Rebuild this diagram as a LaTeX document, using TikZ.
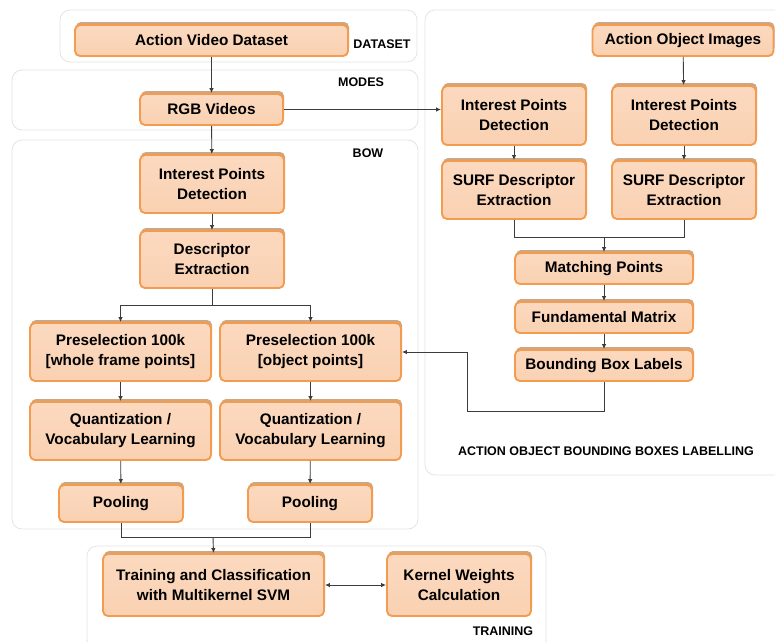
\documentclass[tikz,border=0pt]{standalone}
\usepackage{fontspec}
\setmainfont{Liberation Sans}
\usetikzlibrary{arrows.meta,shadows,calc}
\definecolor{boxborder}{HTML}{F39B4E}
\definecolor{filltop}{HTML}{FBD9BF}
\definecolor{fillmid}{HTML}{FEEEE3}
\definecolor{fillbot}{HTML}{FAD1B2}
\definecolor{shadowc}{HTML}{CDA784}
\definecolor{contc}{HTML}{E4E4E4}
\definecolor{linec}{HTML}{3C3C3C}
\begin{document}
\begin{tikzpicture}[x=1pt,y=-1pt,
 box/.style={draw=boxborder, line width=1.9pt, rounded corners=5pt,
   top color=filltop, middle color=fillmid, bottom color=fillbot,
   general shadow={fill=shadowc, shadow yshift=3pt, shadow xshift=1pt},
   font=\bfseries\fontsize{15.3}{20}\selectfont, align=center, inner sep=0pt},
 cont/.style={draw=contc, line width=0.8pt, rounded corners=10pt, fill=white},
 lab/.style={font=\bfseries\fontsize{12.5}{15}\selectfont, inner sep=0pt},
 conn/.style={draw=linec, line width=0.9pt},
 arr/.style={conn, -{Latex[length=5pt,width=4.5pt]}},
 darr/.style={conn, {Latex[length=5pt,width=4.5pt]}-{Latex[length=5pt,width=4.5pt]}}]
\useasboundingbox[fill=white] (0,0) rectangle (775,641);
% containers
\draw[cont] (60,10) rectangle (417,62);
\draw[cont] (12,70) rectangle (418,130);
\draw[cont] (12,140) rectangle (418,529);
\draw[cont] (425,10) rectangle (790,475);
\draw[cont] (87,546) rectangle (546,650);
% container labels
\node[lab] (ldataset) at (382,44) {DATASET};
\node[lab] (lmodes) at (361,82) {MODES};
\node[lab] (lbow) at (368,153) {BOW};
\node[lab] (laobb) at (606,451) {ACTION OBJECT BOUNDING BOXES LABELLING};
\node[lab] (ltrain) at (503,631) {TRAINING};
% boxes
\node[box, minimum width=273pt, minimum height=31pt] (avd) at (211.5,40.5) {Action Video Dataset};
\node[box, minimum width=143pt, minimum height=31pt] (rgb) at (211.5,109.5) {RGB Videos};
\node[box, minimum width=144pt, minimum height=58pt] (ipdb) at (212,184) {Interest Points\\Detection};
\node[box, minimum width=144pt, minimum height=57pt] (de) at (212,259.5) {Descriptor\\Extraction};
\node[box, minimum width=181pt, minimum height=58pt] (prel) at (120.5,352) {Preselection 100k\\{[whole frame points]}};
\node[box, minimum width=181pt, minimum height=58pt] (prer) at (310.5,352) {Preselection 100k\\{[object points]}};
\node[box, minimum width=181pt, minimum height=58pt] (ql) at (120.5,431) {Quantization /\\Vocabulary Learning};
\node[box, minimum width=181pt, minimum height=58pt] (qr) at (310.5,431) {Quantization /\\Vocabulary Learning};
\node[box, minimum width=124pt, minimum height=37pt] (pl) at (121,503.5) {Pooling};
\node[box, minimum width=124pt, minimum height=37pt] (pr) at (310,503.5) {Pooling};
\node[box, minimum width=221pt, minimum height=62pt] (tr) at (213.5,585) {Training and Classification\\with Multikernel SVM};
\node[box, minimum width=144pt, minimum height=62pt] (kw) at (459,585) {Kernel Weights\\Calculation};
\node[box, minimum width=181pt, minimum height=31pt] (aoi) at (683,40.5) {Action Object Images};
\node[box, minimum width=144pt, minimum height=59pt] (ipdl) at (514,115.5) {Interest Points\\Detection};
\node[box, minimum width=144pt, minimum height=59pt] (ipdr) at (684,115.5) {Interest Points\\Detection};
\node[box, minimum width=144pt, minimum height=58pt] (surfl) at (514,190) {SURF Descriptor\\Extraction};
\node[box, minimum width=144pt, minimum height=58pt] (surfr) at (684,190) {SURF Descriptor\\Extraction};
\node[box, minimum width=178pt, minimum height=31pt] (mp) at (604,268.5) {Matching Points};
\node[box, minimum width=178pt, minimum height=31pt] (fm) at (604,317.5) {Fundamental Matrix};
\node[box, minimum width=178pt, minimum height=31pt] (bbl) at (604,365.5) {Bounding Box Labels};
% junction coordinates
\coordinate (split) at (212,305);
\coordinate (merge) at (213,537);
\coordinate (smerge) at (604,237);
\coordinate (fb1) at (467,411);
% connectors
\draw[arr] (avd) -- (rgb);
\draw[arr] (rgb) -- (ipdb);
\draw[arr] (rgb.east) -- (rgb.east -| ipdl.west);
\draw[arr] (ipdb) -- (de);
\draw[conn] (de.south) -- (split);
\draw[arr] (split) -| (prel.north);
\draw[arr] (split) -| (prer.north);
\draw[arr] (prel) -- (ql);
\draw[arr] (prer) -- (qr);
\draw[arr] (ql) -- (pl);
\draw[arr] (qr) -- (pr);
\draw[conn] (pl.south) |- (merge);
\draw[conn] (pr.south) |- (merge);
\draw[arr] (merge) -- (tr.north);
\draw[darr] (tr) -- (kw);
\draw[arr] (aoi) -- (ipdr);
\draw[arr] (ipdl) -- (surfl);
\draw[arr] (ipdr) -- (surfr);
\draw[conn] (surfl.south) |- (smerge);
\draw[conn] (surfr.south) |- (smerge);
\draw[arr] (smerge) -- (mp.north);
\draw[arr] (mp) -- (fm);
\draw[arr] (fm) -- (bbl);
\draw[arr] (bbl.south) |- (fb1) |- (prer.east);
\end{tikzpicture}
\end{document}
